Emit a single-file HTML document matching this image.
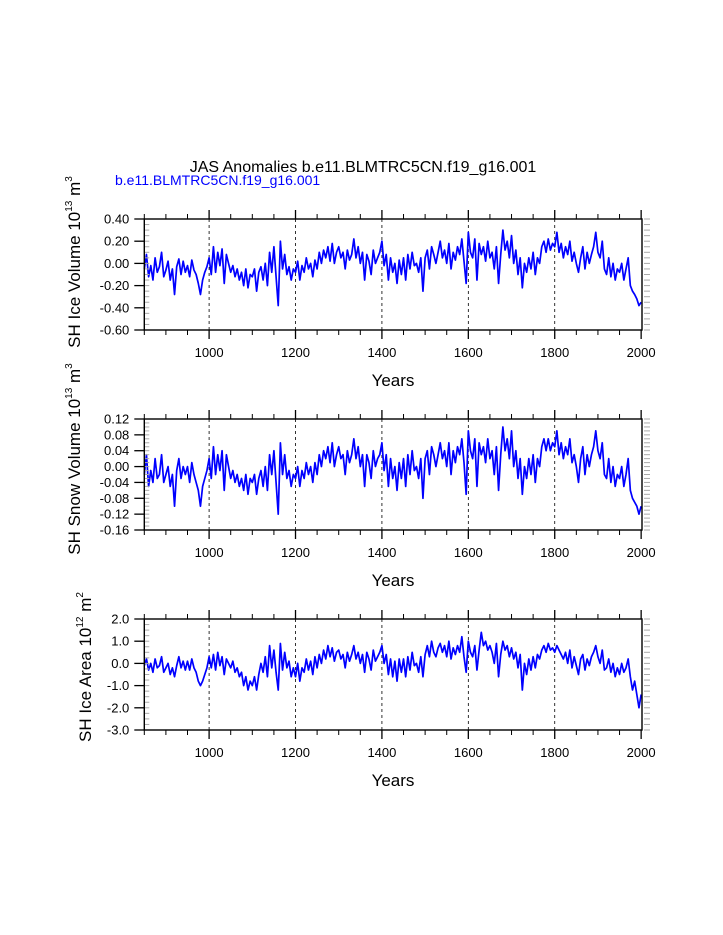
<!DOCTYPE html>
<html><head><meta charset="utf-8"><style>
body{margin:0;background:#fff}
svg{display:block;font-family:"Liberation Sans",Arial,sans-serif}
</style></head><body>
<svg id="chart" width="723" height="935" viewBox="0 0 723 935" xmlns="http://www.w3.org/2000/svg">
<rect width="723" height="935" fill="#fff"/>
<text x="363" y="172" font-size="16" text-anchor="middle" fill="#000">JAS Anomalies b.e11.BLMTRC5CN.f19_g16.001</text>
<text x="115" y="185" font-size="14" fill="#0000ff">b.e11.BLMTRC5CN.f19_g16.001</text>
</svg>
<script>
const startYear = 850;
const stepYears = 5;
const yearTicks = [1000, 1200, 1400, 1600, 1800, 2000];
const iceVolume = [
-5,8,-12,-2,-15,5,-8,-3,10,-12,
-6,2,-15,-5,-28,-3,4,-10,2,-8,
-2,-12,3,-6,-10,-18,-28,-15,-8,-3,
5,-10,15,-8,10,-2,13,-18,8,0,
-8,-2,-12,-5,-15,-8,-20,-5,-22,-10,
-12,-5,-25,-8,-3,-15,0,-20,10,-8,
15,-12,-38,20,-5,8,-10,-3,-15,-5,
-8,2,-15,-2,-8,5,-5,0,-12,3,
-5,10,0,12,5,15,2,18,0,10,
15,5,10,-5,12,3,8,22,5,15,
0,10,-15,8,2,-10,12,0,5,10,
20,-2,8,-15,5,-8,0,-18,3,-10,
5,-15,8,-5,10,-2,0,-8,5,-25,
5,12,-5,15,8,0,10,20,5,12,
0,18,-5,10,3,15,8,22,2,-18,
28,10,5,22,-15,18,8,15,2,20,
5,10,-5,15,-18,8,30,12,20,5,
25,0,12,-10,5,-22,0,-8,5,-5,
10,-10,5,0,15,20,10,22,12,18,
15,28,10,18,5,15,8,20,2,10,
0,-8,5,15,-5,10,0,8,15,28,
10,5,20,-5,-10,5,-12,0,-15,-5,
-8,0,-15,-5,5,-20,-25,-28,-32,-38,
-35];
const snowVolume = [
-2,3,-5,-1,-4,2,-3,-2,3,-4,
-2,0,-5,-2,-10,-1,2,-3,0,-2,
0,-4,1,-2,-4,-6,-10,-5,-3,-1,
2,-3,5,-2,3,-1,4,-6,3,0,
-3,-1,-4,-2,-5,-3,-6,-2,-7,-3,
-4,-2,-7,-3,-1,-5,0,-6,3,-2,
4,-4,-12,6,-2,3,-3,-1,-5,-2,
-3,0,-5,-1,-3,1,-2,0,-4,1,
-2,3,0,4,2,5,1,6,0,3,
5,2,3,-2,4,1,3,7,2,5,
0,3,-5,3,1,-3,4,0,2,3,
6,-1,3,-5,2,-3,0,-6,1,-3,
2,-5,3,-2,4,-1,0,-3,2,-8,
2,4,-2,5,3,0,3,6,2,4,
0,6,-2,4,1,5,3,7,1,-7,
9,4,2,7,-5,6,3,5,1,7,
2,4,-2,5,-6,3,10,4,7,2,
9,0,4,-3,2,-7,0,-3,2,-2,
3,-4,2,0,5,7,4,7,4,6,
5,9,3,6,2,5,3,7,1,3,
0,-4,2,5,-2,3,0,3,5,9,
4,2,6,-2,-3,2,-4,0,-5,-2,
-3,0,-5,-2,2,-6,-8,-9,-10,-12,
-10];
const iceArea = [
-1,2,-3,0,-4,2,-2,-1,3,-4,
-2,0,-5,-2,-6,-1,3,-2,1,-3,
1,-3,2,-2,-4,-8,-10,-8,-5,-2,
3,-2,4,-3,5,-1,3,-5,2,0,
-2,1,-4,-2,-6,-4,-10,-6,-12,-8,
-10,-6,-12,-5,0,-4,3,-6,8,-2,
6,-4,-12,9,-3,5,-2,1,-6,-2,
-6,0,-8,-2,-4,2,-3,1,-5,3,
-2,4,0,6,2,8,3,7,1,5,
6,2,4,-2,5,1,4,8,2,5,
0,4,-4,5,2,-3,6,1,3,5,
8,0,4,-5,2,-6,1,-8,2,-4,
2,-6,3,-3,5,-1,0,-4,3,-6,
4,8,3,10,5,3,7,9,5,8,
3,10,2,7,4,8,5,12,3,-4,
10,5,3,8,-3,6,14,8,10,6,
8,5,0,9,-6,4,10,6,8,3,
7,2,5,-2,4,-12,0,-5,2,-3,
3,-2,4,2,6,8,5,9,6,7,
5,8,6,4,2,5,0,6,-2,3,
-1,-5,2,4,-3,2,-1,3,5,8,
3,0,6,-3,-2,2,-4,0,-6,-2,
-5,0,-4,-2,2,-6,-12,-8,-14,-20,
-14];
const iceVolumeTicks = ["0.40","0.20","0.00","-0.20","-0.40","-0.60"];
const snowVolumeTicks = ["0.12","0.08","0.04","0.00","-0.04","-0.08","-0.12","-0.16"];
const iceAreaTicks = ["2.0","1.0","0.0","-1.0","-2.0","-3.0"];

const NS = "http://www.w3.org/2000/svg";
const svg = document.getElementById('chart');
const X0 = 144.3, X1 = 642, YR0 = 850, YR1 = 2002;
function xs(yr){ return X0 + (yr - YR0) * (X1 - X0) / (YR1 - YR0); }
function mk(tag, attrs, parent){
  const e = document.createElementNS(NS, tag);
  for (const k in attrs) e.setAttribute(k, attrs[k]);
  (parent || svg).appendChild(e);
  return e;
}
function panel(top, name, values, scale, ymin, ymax, ticks, minorStep, labelMain, labelExp, labelUnit, labelX, labelDy){
  const bot = top + 111;
  const g = mk('g', {});
  
  
  const ys = v => bot - (v - ymin) * (bot - top) / (ymax - ymin);
  for (const t of yearTicks) {
    if (t >= 2000) continue;
    const l = mk('line', {x1: xs(t), x2: xs(t), y1: top, y2: bot, stroke: '#000', 'stroke-width': 0.8, 'stroke-dasharray': '3,3'}, g);
    
    
  }
  let d = '';
  values.forEach((v, i) => { d += (i ? 'L' : 'M') + xs(startYear + i * stepYears).toFixed(2) + ',' + ys(v * scale).toFixed(2); });
  const p = mk('path', {d: d, fill: 'none', stroke: '#0000ff', 'stroke-width': 1.7, 'stroke-linejoin': 'round'}, g);
  
  
  for (let yr = 850; yr <= 2000; yr += 50) {
    if (yr % 200 === 0) continue;
    mk('line', {x1: xs(yr), x2: xs(yr), y1: bot, y2: bot + 5, stroke: '#000', 'stroke-width': 1}, g);
    mk('line', {x1: xs(yr), x2: xs(yr), y1: top, y2: top - 5, stroke: '#000', 'stroke-width': 1}, g);
  }
  for (const t of yearTicks) {
    mk('line', {x1: xs(t), x2: xs(t), y1: bot, y2: bot + 9, stroke: '#000', 'stroke-width': 1.3}, g);
    mk('line', {x1: xs(t), x2: xs(t), y1: top, y2: top - 9, stroke: '#000', 'stroke-width': 1.3}, g);
    const tl = mk('text', {x: xs(t), y: bot + 27, 'font-size': 13, 'text-anchor': 'middle'}, g);
    tl.textContent = t;
    
    
  }
  for (let v = ymin; v <= ymax + 1e-9; v += minorStep) {
    mk('line', {x1: X0, x2: X0 + 5, y1: ys(v), y2: ys(v), stroke: '#aaa', 'stroke-width': 1}, g);
    mk('line', {x1: X1 + 2, x2: X1 + 8, y1: ys(v), y2: ys(v), stroke: '#aaa', 'stroke-width': 1}, g);
  }
  ticks.forEach(s => {
    const v = parseFloat(s);
    mk('line', {x1: X0 - 10, x2: X0, y1: ys(v), y2: ys(v), stroke: '#000', 'stroke-width': 1.3}, g);
    const tl = mk('text', {x: X0 - 15, y: ys(v) + 4.5, 'font-size': 13, 'text-anchor': 'end'}, g);
    tl.textContent = s;
    
    
  });
  mk('rect', {x: X0, y: top, width: X1 - X0, height: bot - top, fill: 'none', stroke: '#000', 'stroke-width': 1.4}, g);
  const xt = mk('text', {x: 393, y: bot + 56, 'font-size': 17, 'text-anchor': 'middle'}, g);
  xt.textContent = 'Years';
  
  
  const cy = top + labelDy;
  const yt = mk('text', {x: 0, y: 0, 'font-size': 17, 'text-anchor': 'middle', transform: 'translate(' + labelX + ',' + cy + ') rotate(-90)'}, g);
  
  
  const t1 = document.createElementNS(NS, 'tspan'); t1.textContent = labelMain + ' 10'; yt.appendChild(t1);
  const t2 = document.createElementNS(NS, 'tspan'); t2.setAttribute('font-size', '10'); t2.setAttribute('dy', '-8'); t2.textContent = labelExp; yt.appendChild(t2);
  const t3 = document.createElementNS(NS, 'tspan'); t3.setAttribute('dy', '8'); t3.textContent = ' m'; yt.appendChild(t3);
  const t4 = document.createElementNS(NS, 'tspan'); t4.setAttribute('font-size', '10'); t4.setAttribute('dy', '-8'); t4.textContent = labelUnit; yt.appendChild(t4);
}
panel(219, 'ice-volume', iceVolume, 0.01, -0.6, 0.4, iceVolumeTicks, 0.05, 'SH Ice Volume', '13', '3', 80, 43);
panel(419, 'snow-volume', snowVolume, 0.01, -0.16, 0.12, snowVolumeTicks, 0.01, 'SH Snow Volume', '13', '3', 80, 40);
panel(619, 'ice-area', iceArea, 0.1, -3.0, 2.0, iceAreaTicks, 0.25, 'SH Ice Area', '12', '2', 91, 48);
</script>
</body></html>
